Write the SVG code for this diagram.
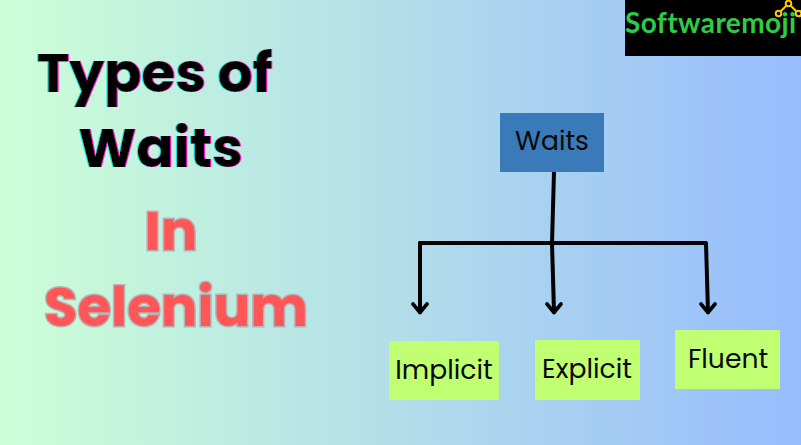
<svg xmlns="http://www.w3.org/2000/svg" width="801" height="445" viewBox="0 0 801 445">
<defs>
<linearGradient id="bg" x1="0" y1="0" x2="1" y2="0"><stop offset="0" stop-color="#ccffd6"/><stop offset="1" stop-color="#97bcfd"/></linearGradient>
<filter id="glitch" x="-5%" y="-10%" width="110%" height="120%">
<feOffset in="SourceAlpha" dx="-1" result="a"/><feFlood flood-color="#19f0e8"/><feComposite in2="a" operator="in" result="ca"/>
<feOffset in="SourceAlpha" dx="1" result="b"/><feFlood flood-color="#ff19d0"/><feComposite in2="b" operator="in" result="cb"/>
<feMerge><feMergeNode in="ca"/><feMergeNode in="cb"/><feMergeNode in="SourceGraphic"/></feMerge>
</filter>
</defs>
<style>
.t{font-family:"Poppins","Inter","Liberation Sans",sans-serif;font-weight:700;font-size:55px;text-anchor:middle}
.k{fill:#000;filter:url(#glitch)}
.r{font-size:54.500px;fill:#ff5757;stroke:#b5b5b8;stroke-width:3px;paint-order:stroke}
.l{font-family:"Poppins","Inter","Open Sans",sans-serif;font-size:26.600px;fill:#0a0a0a;text-anchor:middle}
.c{fill:none;stroke:#000;stroke-width:4;stroke-linecap:round}
.arrow{fill:none;stroke:#000;stroke-width:3.600;stroke-linecap:round;stroke-linejoin:round}
</style>
<rect width="801" height="445" fill="url(#bg)"/>
<g id="title">
<text class="t k" x="154.500" y="92">Types of</text>
<text class="t k" x="160.500" y="167">Waits</text>
<text class="t r" x="171" y="250">In</text>
<text class="t r" x="176" y="326">Selenium</text>
</g>
<g id="logo">
<rect x="625" y="0" width="176" height="56" fill="#000"/>
<text x="625" y="33" font-family="Lato,'Liberation Sans',sans-serif" font-size="28" font-weight="700" fill="#2fcb45" letter-spacing="0.400">Softwaremoji</text>
<path d="M778.500 13.500L788.500 3.500L798.500 13.500" fill="none" stroke="#f4c70a" stroke-width="2"/>
<circle cx="778.500" cy="13.500" r="2.800" fill="#000" stroke="#f4c70a" stroke-width="2"/>
<circle cx="788.500" cy="3.500" r="2.800" fill="#000" stroke="#f4c70a" stroke-width="2"/>
<circle cx="798.500" cy="13.500" r="2.800" fill="#000" stroke="#f4c70a" stroke-width="2"/>
</g>
<g id="connectors">
<path class="c" d="M554 172L552 243"/>
<path class="c" d="M420 243H704"/>
<path class="c" d="M420 243V312"/>
<path class="c" d="M552 243L554 312"/>
<path class="c" d="M706 243L708 312"/>
<path class="arrow" d="M413 304L420 312.500L427 304M547 304L554 312.500L561 304M701 304L708 312.500L715 304"/>
</g>
<g id="node-waits"><rect x="500" y="113" width="104" height="59" fill="#3a7ab8"/><text class="l" x="552" y="150">Waits</text></g>
<g id="node-implicit"><rect x="389" y="341" width="110" height="59" fill="#c1ff72"/><text class="l" x="444" y="379">Implicit</text></g>
<g id="node-explicit"><rect x="535" y="340" width="105" height="60" fill="#c1ff72"/><text class="l" x="587" y="378">Explicit</text></g>
<g id="node-fluent"><rect x="675" y="330" width="105" height="59" fill="#c1ff72"/><text class="l" x="728" y="368">Fluent</text></g>
</svg>
